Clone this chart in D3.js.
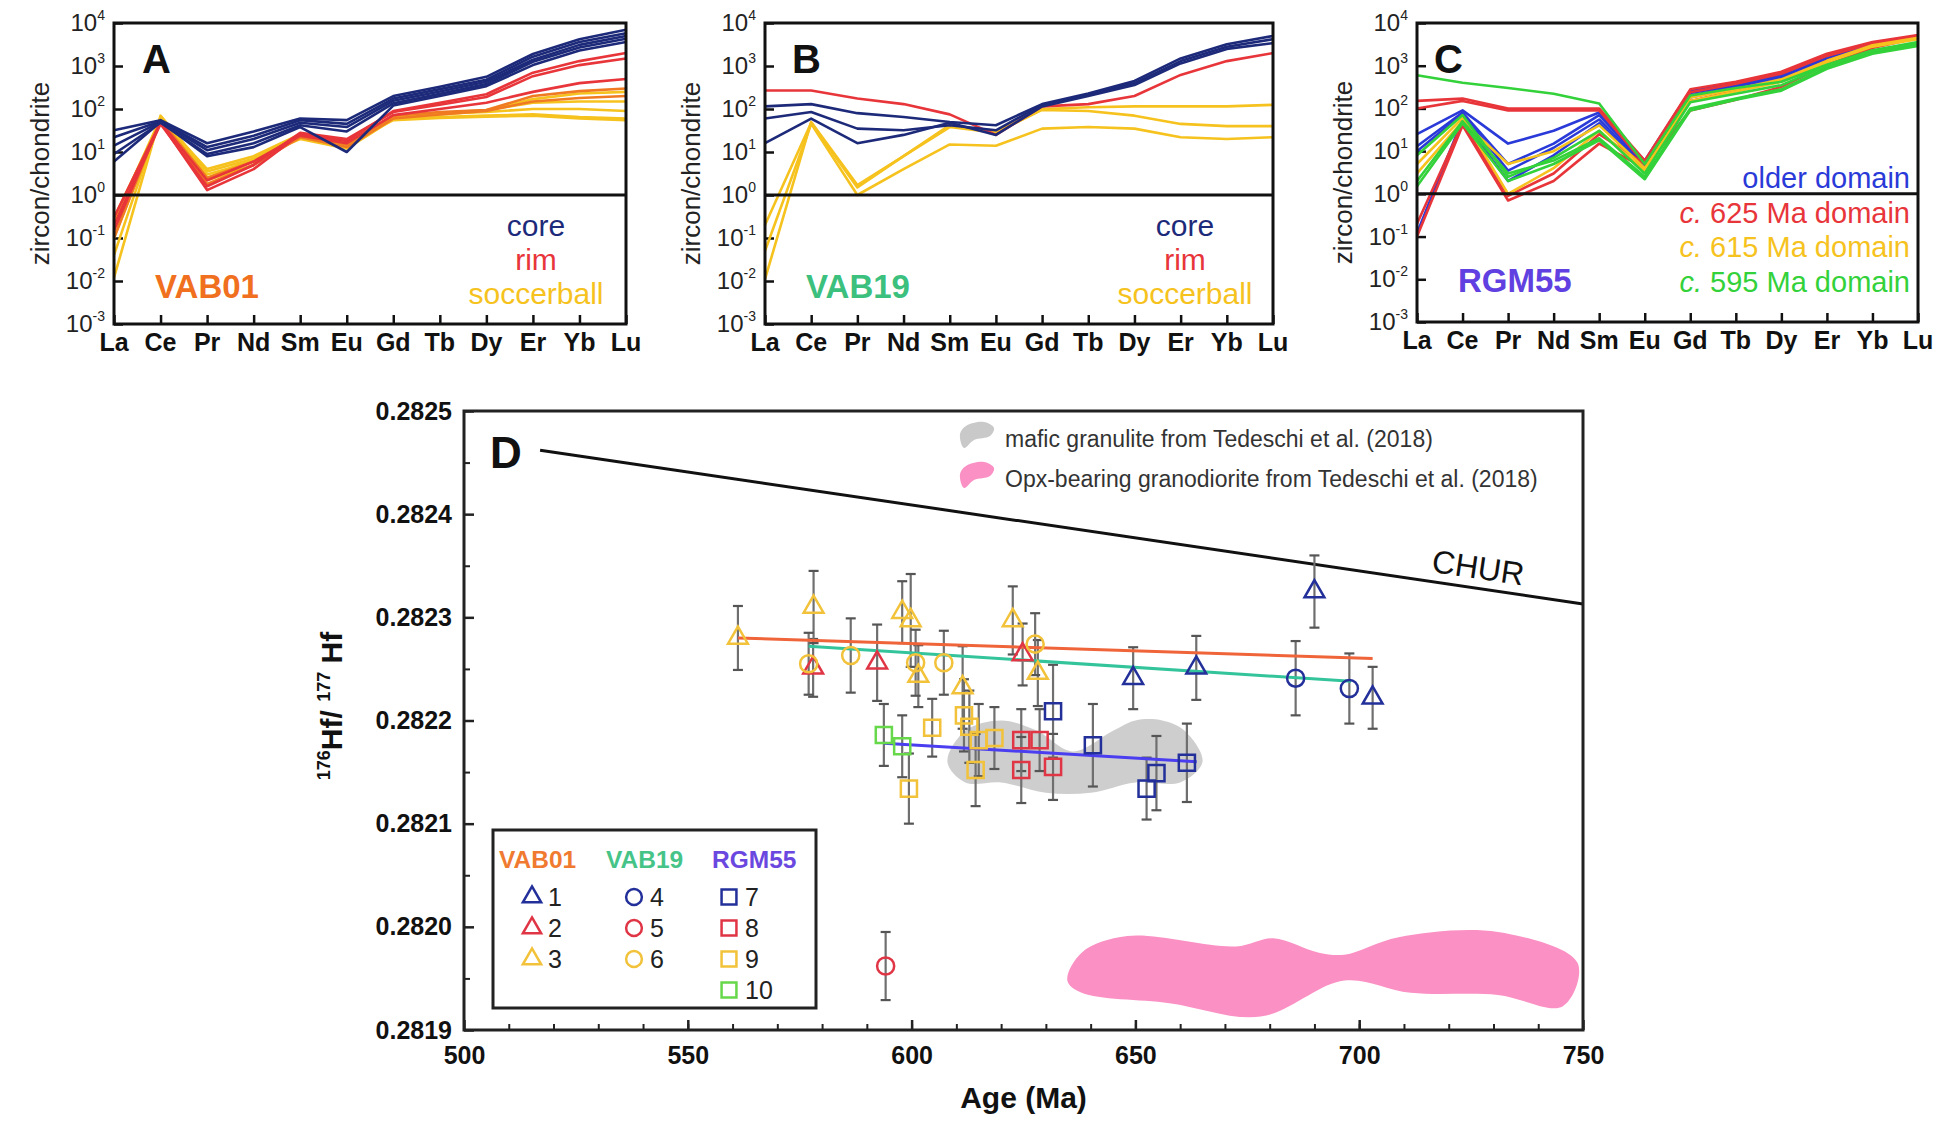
<!DOCTYPE html>
<html>
<head>
<meta charset="utf-8">
<script src="https://cdn.jsdelivr.net/npm/d3@7"></script>
<style>
  body { margin: 0; background: #fff; }
  text { font-family: "Liberation Sans", Arial, sans-serif; }
</style>
</head>
<body>
<script>
// ---------- REE spider diagrams (A, B, C) ----------
const ree = ["La", "Ce", "Pr", "Nd", "Sm", "Eu", "Gd", "Tb", "Dy", "Er", "Yb", "Lu"];
const decades = [1e-3, 1e-2, 1e-1, 1e0, 1e1, 1e2, 1e3, 1e4];
const decadeExp = ["-3", "-2", "-1", "0", "1", "2", "3", "4"];

// VAB01 (panel A)
const vab01Soccer = [
  [0.012, 70, 3.5, 7, 25, 16, 62, 75, 90, 170, 230, 250],
  [0.04, 65, 3, 6, 22, 14, 65, 80, 95, 140, 150, 150],
  [0.1, 60, 4, 8, 26, 18, 68, 78, 85, 100, 100, 90],
  [0.2, 60, 2.5, 7, 20, 12, 58, 65, 70, 75, 65, 60],
  [0.25, 62, 2.2, 5, 24, 15, 55, 62, 66, 70, 60, 55]
];
const vab01Orange = [
  [0.1, 55, 2.5, 6, 25, 15, 70, 85, 95, 200, 260, 300],
  [0.3, 50, 1.8, 5, 22, 13, 60, 75, 90, 150, 180, 200]
];
const vab01Rim = [
  [0.3, 48, 1.3, 4, 26, 18, 90, 140, 220, 700, 1300, 2000],
  [0.2, 45, 1.6, 5, 28, 20, 85, 125, 190, 580, 1050, 1500],
  [0.15, 50, 2.2, 6, 24, 16, 72, 100, 140, 250, 400, 500]
];
const vab01Core = [
  [32, 55, 16, 30, 60, 55, 200, 330, 560, 1900, 4200, 7000],
  [22, 52, 13, 24, 55, 45, 175, 290, 480, 1650, 3600, 5800],
  [14, 50, 11, 20, 48, 38, 155, 255, 430, 1400, 3100, 5000],
  [9, 48, 9, 16, 42, 30, 135, 225, 380, 1250, 2700, 4300],
  [6, 50, 8, 13, 38, 10, 120, 200, 340, 1050, 2300, 3600]
];

// VAB19 (panel B)
const vab19Soccer = [
  [0.011, 50, 1.7, 8, 42, 30, 100, 110, 115, 115, 115, 125],
  [0.2, 48, 1.5, 8, 38, 28, 95, 90, 70, 45, 40, 40],
  [0.05, 45, 1.0, 4, 15, 14, 35, 38, 35, 22, 20, 22]
];
const vab19Rim = [
  [270, 270, 175, 130, 75, 25, 115, 130, 200, 620, 1300, 2000]
];
const vab19Core = [
  [115, 130, 80, 65, 50, 42, 130, 230, 450, 1500, 3200, 5000],
  [60, 85, 35, 32, 42, 32, 125, 215, 400, 1300, 2800, 4200],
  [16, 60, 16, 25, 48, 25, 115, 200, 360, 1150, 2500, 3400]
];

// RGM55 (panel C)
const rgmOlder = [
  [25, 90, 15, 30, 80, 6, 260, 380, 650, 1700, 3300, 5000],
  [13, 80, 5, 15, 70, 5, 230, 350, 600, 1600, 3200, 4800],
  [10, 75, 3.5, 12, 55, 4.5, 200, 320, 550, 1500, 3000, 4600],
  [0.12, 55, 2, 8, 45, 4, 180, 300, 500, 1400, 2900, 4500]
];
const rgm625 = [
  [150, 170, 100, 100, 100, 6, 280, 420, 720, 1900, 3600, 5200],
  [100, 150, 90, 90, 90, 5, 240, 380, 650, 1700, 3300, 4900],
  [0.1, 40, 0.7, 2, 15, 4, 90, 160, 320, 1050, 2600, 4500],
  [0.2, 45, 0.9, 3, 25, 5, 150, 260, 450, 1300, 2900, 4700]
];
const rgm615 = [
  [5, 60, 1, 4, 30, 3.5, 180, 280, 480, 1300, 3000, 4500],
  [3, 50, 5, 10, 40, 4, 150, 250, 420, 1200, 2800, 4200]
];
const rgm595 = [
  [600, 400, 300, 220, 130, 5, 200, 300, 420, 1050, 2300, 3600],
  [2, 50, 3, 6, 20, 2.5, 100, 170, 280, 900, 2000, 3000],
  [8, 70, 2.5, 7, 30, 3, 140, 220, 350, 1000, 2200, 3300],
  [1.5, 45, 2, 5, 18, 2.2, 90, 160, 260, 850, 1900, 2900]
];

// ---------- Hf isotope panel (D): [age Ma, 176Hf/177Hf, 2s] ----------
const hf1 = [[649.5, 0.282241, 0.000030], [663.6, 0.282251, 0.000031], [690, 0.282325, 0.000035], [703, 0.282222, 0.000030]];
const hf2 = [[578, 0.282251, 0.000028], [592.3, 0.282256, 0.000037], [624.8, 0.282264, 0.000030]];
const hf3 = [[561.2, 0.282280, 0.000031], [578.1, 0.282310, 0.000035], [597.9, 0.282305, 0.000030], [599.8, 0.282297, 0.000045],
             [601.5, 0.282243, 0.000030], [611.4, 0.282232, 0.000040], [622.6, 0.282297, 0.000033], [628.2, 0.282246, 0.000032]];
const hf4 = [[685.8, 0.282241, 0.000036], [697.8, 0.282231, 0.000034]];
const hf5 = [[594.2, 0.281962, 0.000033]];
const hf6 = [[577, 0.282255, 0.000030], [586.4, 0.282263, 0.000036], [600.9, 0.282256, 0.000032], [607.2, 0.282256, 0.000031], [627.6, 0.282274, 0.000030]];
const hf7 = [[631.6, 0.282209, 0.000045], [640.5, 0.282176, 0.000040], [652.5, 0.282134, 0.000030], [654.7, 0.282149, 0.000036], [661.5, 0.282159, 0.000038]];
const hf8 = [[624.5, 0.282181, 0.000030], [628.6, 0.282181, 0.000030], [624.5, 0.282152, 0.000032], [631.6, 0.282155, 0.000032]];
const hf9 = [[604.6, 0.282193, 0.000028], [599.4, 0.282134, 0.000034], [611.7, 0.282205, 0.000035], [612.9, 0.282194, 0.000035],
             [615, 0.282181, 0.000035], [614.3, 0.282152, 0.000035], [618.5, 0.282183, 0.000030]];
const hf10 = [[593.8, 0.282186, 0.000030], [597.9, 0.282175, 0.000030]];

// regression lines
const fitVAB01 = [[561.2, 0.282280], [703, 0.282260]];
const fitVAB19 = [[577, 0.282272], [698.2, 0.282238]];
const fitRGM55 = [[593.8, 0.282178], [663.7, 0.282160]];
const chur = [[517, 0.282462], [750, 0.282313]];

// comparison fields (Tedeschi et al. 2018)
const maficField = [[608, 0.28216], [612, 0.28219], [620, 0.28220], [628, 0.28219], [636, 0.28217], [645, 0.28219], [650, 0.28220],
                    [656, 0.28220], [661, 0.28219], [665, 0.28216], [660, 0.28214], [650, 0.28214], [640, 0.28213], [630, 0.28213],
                    [620, 0.28214], [612, 0.28214]];
const opxField = [[634.8, 0.281948], [638, 0.281975], [648.2, 0.281991], [672.4, 0.281981], [680.8, 0.281989], [691, 0.281975],
                  [696.7, 0.281973], [708.8, 0.28199], [731, 0.281995], [748.8, 0.281965], [745.5, 0.281923], [731, 0.281934],
                  [711.5, 0.281936], [696.7, 0.281948], [678, 0.281913], [657.6, 0.281926], [638, 0.281936]];

const xTicksD = [500, 550, 600, 650, 700, 750];
const yTicksD = [0.2819, 0.2820, 0.2821, 0.2822, 0.2823, 0.2824, 0.2825];

// colours
const navy = "#1d2a7a", red = "#e8353a", orange = "#f07a22", yellow = "#f6c21e";
const blueC = "#2a3ad8", greenC = "#33d13a";

const W = 1955, H = 1122;
const svg = d3.select("body").append("svg")
    .attr("width", W).attr("height", H)
    .style("background", "#fff");

function reePanel(cfg) {
    const x = d3.scalePoint().domain(ree).range([cfg.left, cfg.right]);
    const y = d3.scaleLog().domain([1e-3, 1e4]).range([cfg.bottom, cfg.top]);
    const g = svg.append("g");

    // axes with inward ticks
    g.append("g")
        .attr("transform", "translate(0," + cfg.bottom + ")")
        .call(d3.axisBottom(x).tickSize(-9).tickFormat(""))
        .call(a => a.select(".domain").remove())
        .selectAll("line").attr("stroke", "#111").attr("stroke-width", 2.5);
    g.append("g")
        .attr("transform", "translate(" + cfg.left + ",0)")
        .call(d3.axisLeft(y).tickValues(decades).tickSize(-9).tickFormat(""))
        .call(a => a.select(".domain").remove())
        .selectAll("line").attr("stroke", "#111").attr("stroke-width", 2.5);

    // category labels
    g.selectAll(".ree").data(ree).enter().append("text")
        .attr("x", d => x(d)).attr("y", cfg.bottom + 27)
        .attr("text-anchor", "middle")
        .attr("font-size", 25).attr("font-weight", "bold").attr("fill", "#111")
        .text(d => d);

    // decade labels 10^n
    const lab = g.selectAll(".dec").data(decades).enter().append("text")
        .attr("x", cfg.left - 9).attr("y", d => y(d) + 8)
        .attr("text-anchor", "end").attr("font-size", 24).attr("fill", "#222");
    lab.append("tspan").text("10");
    lab.append("tspan").attr("dy", -11).attr("font-size", 14).text((d, i) => decadeExp[i]);

    // y title
    g.append("text")
        .attr("transform", "translate(" + (cfg.left - 74) + "," + ((cfg.top + cfg.bottom) / 2) + ") rotate(-90)")
        .attr("text-anchor", "middle").attr("dy", "0.35em")
        .attr("font-size", 26).attr("fill", "#222")
        .text("zircon/chondrite");

    // pattern lines
    const line = d3.line().x((d, i) => x(ree[i])).y(d => y(d));
    cfg.groups.forEach(grp => {
        g.selectAll(null).data(grp.data).enter().append("path")
            .attr("d", line)
            .attr("fill", "none")
            .attr("stroke", grp.color)
            .attr("stroke-width", 2.6)
            .attr("stroke-linejoin", "round");
    });

    // chondrite = 1 line
    g.append("line")
        .attr("x1", cfg.left).attr("x2", cfg.right)
        .attr("y1", y(1)).attr("y2", y(1))
        .attr("stroke", "#111").attr("stroke-width", 3);

    // frame
    g.append("rect")
        .attr("x", cfg.left).attr("y", cfg.top)
        .attr("width", cfg.right - cfg.left).attr("height", cfg.bottom - cfg.top)
        .attr("fill", "none").attr("stroke", "#111").attr("stroke-width", 3);

    // letter
    g.append("text")
        .attr("x", cfg.left + cfg.letterDx).attr("y", cfg.top + 50)
        .attr("font-size", 40).attr("font-weight", "bold").attr("fill", "#111")
        .text(cfg.letter);

    // sample name
    g.append("text")
        .attr("x", cfg.left + 41).attr("y", cfg.sampleY)
        .attr("font-size", 33).attr("font-weight", "bold").attr("fill", cfg.sampleColor)
        .text(cfg.sample);

    // legend text
    cfg.legend.forEach((l, i) => {
        const t = g.append("text")
            .attr("x", cfg.legendX).attr("y", cfg.legendY + i * cfg.legendStep)
            .attr("text-anchor", cfg.legendAnchor)
            .attr("font-size", cfg.legendSize).attr("fill", l.color);
        if (l.italic) t.append("tspan").attr("font-style", "italic").text(l.italic);
        t.append("tspan").text(l.text);
    });
}

reePanel({
    left: 114, right: 626, top: 23, bottom: 324, letter: "A", letterDx: 28,
    sample: "VAB01", sampleColor: "#f07020", sampleY: 298,
    groups: [
        { data: vab01Soccer, color: yellow },
        { data: vab01Orange, color: orange },
        { data: vab01Rim, color: red },
        { data: vab01Core, color: navy }
    ],
    legend: [{ text: "core", color: navy }, { text: "rim", color: red }, { text: "soccerball", color: yellow }],
    legendX: 536, legendY: 236, legendStep: 34, legendAnchor: "middle", legendSize: 30
});

reePanel({
    left: 765, right: 1273, top: 23, bottom: 324, letter: "B", letterDx: 27,
    sample: "VAB19", sampleColor: "#3cc07e", sampleY: 298,
    groups: [
        { data: vab19Soccer, color: yellow },
        { data: vab19Rim, color: red },
        { data: vab19Core, color: navy }
    ],
    legend: [{ text: "core", color: navy }, { text: "rim", color: red }, { text: "soccerball", color: yellow }],
    legendX: 1185, legendY: 236, legendStep: 34, legendAnchor: "middle", legendSize: 30
});

reePanel({
    left: 1417, right: 1918, top: 23, bottom: 322, letter: "C", letterDx: 17,
    sample: "RGM55", sampleColor: "#6040e0", sampleY: 292,
    groups: [
        { data: rgmOlder, color: blueC },
        { data: rgm625, color: red },
        { data: rgm615, color: yellow },
        { data: rgm595, color: greenC }
    ],
    legend: [
        { text: "older domain", color: blueC },
        { italic: "c.", text: " 625 Ma domain", color: red },
        { italic: "c.", text: " 615 Ma domain", color: yellow },
        { italic: "c.", text: " 595 Ma domain", color: greenC }
    ],
    legendX: 1910, legendY: 188, legendStep: 34.5, legendAnchor: "end", legendSize: 29
});

// ---------- Panel D ----------
const dL = 464, dR = 1583, dT = 411, dB = 1030;
const xD = d3.scaleLinear().domain([500, 750]).range([dL, dR]);
const yD = d3.scaleLinear().domain([0.2819, 0.2825]).range([dB, dT]);
const gD = svg.append("g");

// minor + major ticks, inward
gD.append("g").attr("transform", "translate(0," + dB + ")")
    .call(d3.axisBottom(xD).tickValues(d3.range(510, 750, 10)).tickSize(-6).tickFormat(""))
    .call(a => a.select(".domain").remove())
    .selectAll("line").attr("stroke", "#222").attr("stroke-width", 2);
gD.append("g").attr("transform", "translate(0," + dB + ")")
    .call(d3.axisBottom(xD).tickValues(xTicksD).tickSize(-10).tickPadding(16).tickFormat(d3.format("d")))
    .call(a => a.select(".domain").remove())
    .call(a => a.selectAll("line").attr("stroke", "#222").attr("stroke-width", 2.5))
    .selectAll("text").attr("font-size", 25).attr("font-weight", "bold").attr("fill", "#111")
    .attr("font-family", "Liberation Sans, Arial, sans-serif");
gD.append("g").attr("transform", "translate(" + dL + ",0)")
    .call(d3.axisLeft(yD).tickValues([0.28195, 0.28205, 0.28215, 0.28225, 0.28235, 0.28245]).tickSize(-6).tickFormat(""))
    .call(a => a.select(".domain").remove())
    .selectAll("line").attr("stroke", "#222").attr("stroke-width", 2);
gD.append("g").attr("transform", "translate(" + dL + ",0)")
    .call(d3.axisLeft(yD).tickValues(yTicksD).tickSize(-10).tickPadding(12).tickFormat(d3.format(".4f")))
    .call(a => a.select(".domain").remove())
    .call(a => a.selectAll("line").attr("stroke", "#222").attr("stroke-width", 2.5))
    .selectAll("text").attr("font-size", 25).attr("font-weight", "bold").attr("fill", "#111")
    .attr("font-family", "Liberation Sans, Arial, sans-serif");

// axis titles
gD.append("text")
    .attr("x", (dL + dR) / 2).attr("y", 1108)
    .attr("text-anchor", "middle").attr("font-size", 30).attr("font-weight", "bold").attr("fill", "#111")
    .text("Age (Ma)");
const yt = gD.append("text")
    .attr("transform", "translate(342,706) rotate(-90)")
    .attr("text-anchor", "middle").attr("font-size", 30).attr("font-weight", "bold").attr("fill", "#111");
yt.append("tspan").attr("font-size", 18).attr("dy", -12).text("176");
yt.append("tspan").attr("dy", 12).text("Hf/ ");
yt.append("tspan").attr("font-size", 18).attr("dy", -12).text("177");
yt.append("tspan").attr("dy", 12).text(" Hf");

// comparison fields
const area = d3.line().x(d => xD(d[0])).y(d => yD(d[1])).curve(d3.curveCatmullRomClosed.alpha(0.5));
gD.append("path").attr("d", area(maficField)).attr("fill", "#c9c9c9").attr("opacity", 0.9);
gD.append("path").attr("d", area(opxField)).attr("fill", "#fb90c4");

// CHUR
const lin = d3.line().x(d => xD(d[0])).y(d => yD(d[1]));
gD.append("path").attr("d", lin(chur)).attr("stroke", "#111").attr("stroke-width", 3).attr("fill", "none");
gD.append("text")
    .attr("transform", "translate(" + (xD(728) - 8) + "," + (yD(0.282326) - 12) + ") rotate(8.4)")
    .attr("text-anchor", "middle").attr("font-size", 32).attr("fill", "#111")
    .text("CHUR");

// series definitions
const series = [
    { data: hf1, sym: d3.symbolTriangle, color: "#23309a" },
    { data: hf2, sym: d3.symbolTriangle, color: "#e03545" },
    { data: hf3, sym: d3.symbolTriangle, color: "#f2c23a" },
    { data: hf4, sym: d3.symbolCircle, color: "#23309a" },
    { data: hf5, sym: d3.symbolCircle, color: "#e03545" },
    { data: hf6, sym: d3.symbolCircle, color: "#f2c23a" },
    { data: hf7, sym: d3.symbolSquare, color: "#23309a" },
    { data: hf8, sym: d3.symbolSquare, color: "#e03545" },
    { data: hf9, sym: d3.symbolSquare, color: "#f2c23a" },
    { data: hf10, sym: d3.symbolSquare, color: "#66d84a" }
];
const symSize = s => s === d3.symbolTriangle ? 170 : (s === d3.symbolCircle ? 230 : 260);

// error bars
series.forEach(s => {
    s.data.forEach(d => {
        const x = xD(d[0]);
        gD.append("line").attr("x1", x).attr("x2", x).attr("y1", yD(d[1] - d[2])).attr("y2", yD(d[1] + d[2]))
            .attr("stroke", "#6f6f6f").attr("stroke-width", 2.2);
        [d[1] - d[2], d[1] + d[2]].forEach(v => {
            gD.append("line").attr("x1", x - 5).attr("x2", x + 5).attr("y1", yD(v)).attr("y2", yD(v))
                .attr("stroke", "#555").attr("stroke-width", 2.2);
        });
    });
});

// regression lines
gD.append("path").attr("d", lin(fitVAB01)).attr("stroke", "#f0643a").attr("stroke-width", 3).attr("fill", "none");
gD.append("path").attr("d", lin(fitVAB19)).attr("stroke", "#34c49c").attr("stroke-width", 3).attr("fill", "none");
gD.append("path").attr("d", lin(fitRGM55)).attr("stroke", "#4a3ef0").attr("stroke-width", 3).attr("fill", "none");

// markers
series.forEach(s => {
    gD.selectAll(null).data(s.data).enter().append("path")
        .attr("transform", d => "translate(" + xD(d[0]) + "," + yD(d[1]) + ")")
        .attr("d", d3.symbol().type(s.sym).size(symSize(s.sym)))
        .attr("fill", "none").attr("stroke", s.color).attr("stroke-width", 2.5);
});

// frame
gD.append("rect").attr("x", dL).attr("y", dT).attr("width", dR - dL).attr("height", dB - dT)
    .attr("fill", "none").attr("stroke", "#222").attr("stroke-width", 3);

// panel letter
gD.append("text").attr("x", 490).attr("y", 468)
    .attr("font-size", 44).attr("font-weight", "bold").attr("fill", "#111").text("D");

// field legend
const blob = [[0, 8], [6, 0], [24, -4], [34, 2], [30, 10], [14, 14], [4, 22]];
const blobLine = d3.line().curve(d3.curveCatmullRomClosed);
[{ y: 426, color: "#c9c9c9", text: "mafic granulite from Tedeschi et al. (2018)" },
 { y: 466, color: "#fb90c4", text: "Opx-bearing granodiorite from Tedeschi et al. (2018)" }].forEach(l => {
    gD.append("path").attr("transform", "translate(960," + l.y + ")").attr("d", blobLine(blob)).attr("fill", l.color);
    gD.append("text").attr("x", 1005).attr("y", l.y + 21)
        .attr("font-size", 23).attr("fill", "#333").text(l.text);
});

// symbol legend
gD.append("rect").attr("x", 493).attr("y", 830).attr("width", 323).attr("height", 178)
    .attr("fill", "#fff").attr("stroke", "#222").attr("stroke-width", 3);
[{ x: 499, t: "VAB01", c: "#f07a30" }, { x: 606, t: "VAB19", c: "#46c488" }, { x: 712, t: "RGM55", c: "#6a48e0" }].forEach(h => {
    gD.append("text").attr("x", h.x).attr("y", 868).attr("font-size", 24.5).attr("font-weight", "bold")
        .attr("fill", h.c).text(h.t);
});
const legCols = [532, 634, 729];
series.forEach((s, i) => {
    const col = i < 3 ? 0 : (i < 6 ? 1 : 2);
    const row = i < 3 ? i : (i < 6 ? i - 3 : i - 6);
    const cx = legCols[col], cy = 897 + row * 31;
    gD.append("path").attr("transform", "translate(" + cx + "," + cy + ")")
        .attr("d", d3.symbol().type(s.sym).size(symSize(s.sym) * 0.85))
        .attr("fill", "none").attr("stroke", s.color).attr("stroke-width", 2.5);
    gD.append("text").attr("x", cx + 16).attr("y", cy + 9).attr("font-size", 25).attr("fill", "#222")
        .text(i + 1);
});
</script>
</body>
</html>
